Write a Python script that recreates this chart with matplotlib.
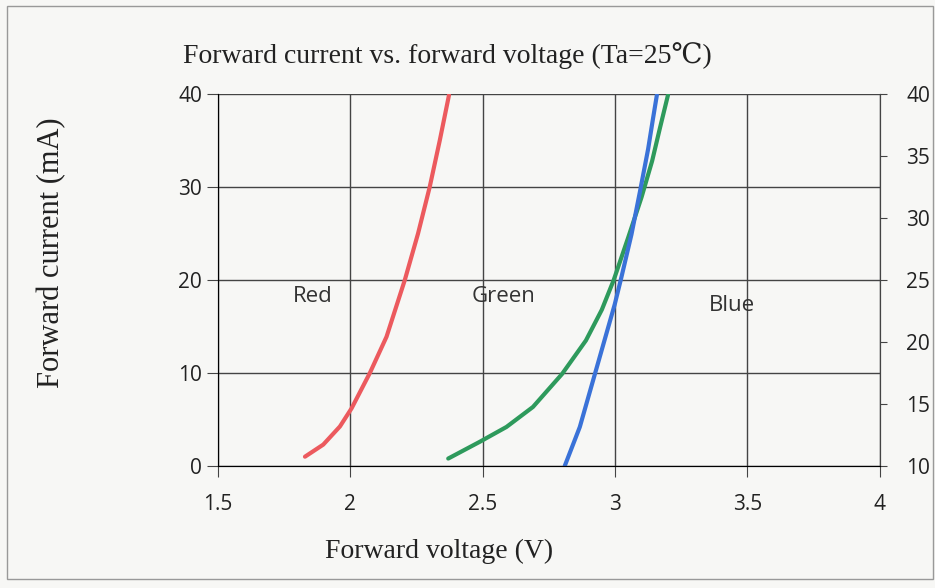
import matplotlib
matplotlib.use("Agg")
import matplotlib.pyplot as plt
from matplotlib.patches import Rectangle

# values (V, mA)
red_v = [1.829, 1.898, 1.961, 2.005, 2.074, 2.137, 2.206, 2.256, 2.300, 2.338, 2.373]
red_i = [1.0, 2.3, 4.25, 6.2, 10, 13.9, 20, 25, 30, 35, 39.9]
green_v = [2.370, 2.489, 2.590, 2.690, 2.800, 2.890, 2.950, 2.995, 3.050, 3.100, 3.140, 3.170, 3.200]
green_i = [0.8, 2.6, 4.2, 6.35, 9.9, 13.5, 16.8, 20, 24.6, 28.9, 32.8, 36.4, 39.9]
blue_v = [2.810, 2.867, 2.917, 2.960, 2.999, 3.024, 3.062, 3.094, 3.125, 3.143, 3.158]
blue_i = [0, 4.2, 9.2, 13.5, 17.4, 20.3, 24.9, 29.5, 34.1, 37.3, 39.9]

x_ticks = [1.5, 2, 2.5, 3, 3.5, 4]
y_ticks = [0, 10, 20, 30, 40]
y2_ticks = [10, 15, 20, 25, 30, 35, 40]

labels = ["Red", "Green", "Blue"]
label_pos = [(1.86, 18.2), (2.58, 18.2), (3.44, 17.3)]

serif = ["Liberation Serif", "DejaVu Serif"]
sans = ["Open Sans", "DejaVu Sans"]

fig = plt.figure(figsize=(9.35, 5.88), dpi=100, facecolor="#f7f7f5")
ax = fig.add_axes([0.233, 0.2075, 0.708, 0.6325])
ax.set_facecolor("#f7f7f5")

ax.plot(red_v, red_i, color="#ec5a5e", lw=3, solid_capstyle="round", solid_joinstyle="round")
ax.plot(green_v, green_i, color="#2e9a5c", lw=3, solid_capstyle="round", solid_joinstyle="round")
ax.plot(blue_v, blue_i, color="#3a72d8", lw=3, solid_capstyle="round", solid_joinstyle="round")

for txt, (x, y) in zip(labels, label_pos):
    ax.text(x, y, txt, fontsize=16, family=sans, color="#333333", ha="center", va="center")

ax.set_xlim(1.5, 4)
ax.set_ylim(0, 40)
ax.set_xticks(x_ticks)
ax.set_xticklabels([str(t) for t in x_ticks])
ax.set_yticks(y_ticks)
ax.grid(True, color="#444444", lw=1.0)
for s in ["top", "bottom", "left", "right"]:
    ax.spines[s].set_color("#444444")
ax.spines["top"].set_visible(False)
ax.tick_params(axis="both", direction="out", length=8, color="#444444",
               labelsize=15, labelcolor="#222222")
ax.tick_params(axis="x", pad=12)
for lab in ax.get_xticklabels() + ax.get_yticklabels():
    lab.set_family(sans)

ax2 = ax.twinx()
ax2.set_ylim(10, 40)
ax2.set_yticks(y2_ticks)
ax2.spines["top"].set_visible(False)
ax2.spines["right"].set_color("#444444")
ax2.tick_params(axis="y", direction="out", length=5, color="#444444",
                labelsize=15, labelcolor="#222222", pad=14)
for lab in ax2.get_yticklabels():
    lab.set_family(sans)

fig.text(0.478, 0.905, "Forward current vs. forward voltage (Ta=25\u2103)",
         fontsize=20, family=serif, ha="center", va="center", color="#222222")
fig.text(0.47, 0.063, "Forward voltage (V)", fontsize=20, family=serif,
         ha="center", va="center", color="#222222")
fig.text(0.055, 0.57, "Forward current (mA)", fontsize=22, family=serif,
         ha="center", va="center", rotation=90, color="#222222")

fig.patches.append(Rectangle((0.008, 0.015), 0.99, 0.975, transform=fig.transFigure,
                             fill=False, ec="#999999", lw=1.0))

fig.savefig("out.png", dpi=100, facecolor=fig.get_facecolor())
